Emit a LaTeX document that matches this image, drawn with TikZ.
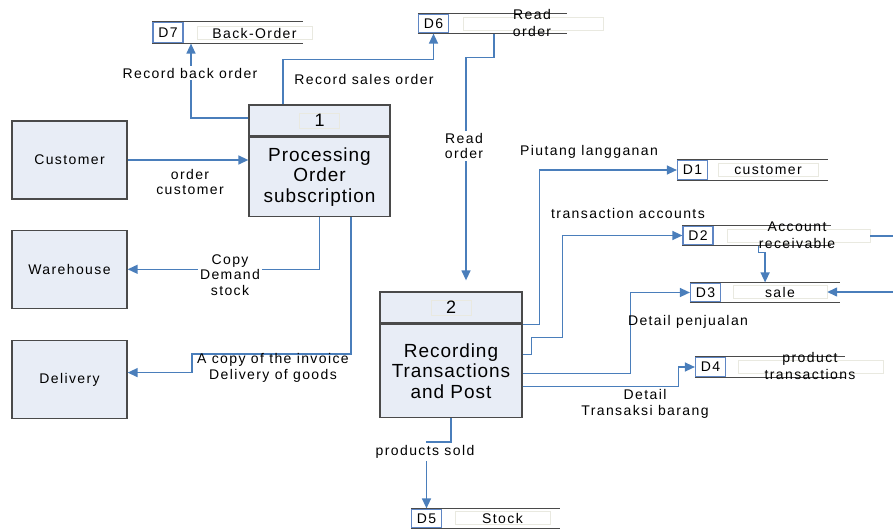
\documentclass[tikz,border=0pt]{standalone}
\usepackage{fontspec}
\usetikzlibrary{arrows.meta}
\usetikzlibrary{positioning}
\newfontfamily\dfdfont[LetterSpace=10]{Liberation Sans}
\newfontfamily\procfont[LetterSpace=5]{Liberation Sans}
\definecolor{flowblue}{HTML}{4A7EBB}
\definecolor{boxfill}{HTML}{E8EDF6}
\definecolor{edgegray}{HTML}{4A4A4A}
\definecolor{idblue}{HTML}{5F86C4}
\definecolor{faint}{HTML}{E9E9E0}

\tikzset{
  entity/.style={rectangle, draw=edgegray, fill=boxfill, line width=1.3pt, minimum width=115pt, minimum height=78pt, inner sep=0pt, font={\dfdfont\fontsize{14}{16}\selectfont}},
  prochead/.style={rectangle, draw=edgegray, fill=boxfill, line width=1.3pt, inner sep=0pt},
  procbody/.style={rectangle, draw=edgegray, fill=boxfill, line width=1.3pt, inner sep=0pt, align=center, font={\procfont\fontsize{19}{20.5}\selectfont}},
  numbox/.style={rectangle, draw=faint, minimum width=40pt, minimum height=15pt, inner sep=0pt, font={\procfont\fontsize{18}{20}\selectfont}},
  storeid/.style={rectangle, draw=idblue, line width=1.2pt, minimum width=30pt, inner sep=0pt, font={\dfdfont\fontsize{14}{16}\selectfont}},
  storename/.style={rectangle, draw=faint, minimum height=13pt, inner sep=0pt, font={\dfdfont\fontsize{14}{17}\selectfont}},
  storetext/.style={align=center, inner sep=0pt, font={\dfdfont\fontsize{14}{17}\selectfont}},
  storeline/.style={draw=edgegray, line width=1.3pt},
  flowline/.style={draw=flowblue, line width=1.4pt},
  flow/.style={flowline, ->},
  flowlabel/.style={align=center, inner sep=1pt, font={\dfdfont\fontsize{14}{15.5}\selectfont}},
  gap/.style={fill=white, inner sep=2pt}
}

\begin{document}
\begin{tikzpicture}[x=1pt, y=-1pt, >={Triangle[length=10pt,width=9pt]}]
  \useasboundingbox (0,0) rectangle (893,529);

  % external entities
  \node (cust) [entity] at (69.5,160) {Customer};
  \node (wh) [entity, below=30pt of cust] {Warehouse};
  \node (del) [entity, below=31pt of wh] {Delivery};

  % processes
  \node (p1h) [prochead, minimum width=141pt, minimum height=31pt] at (319.5,120.5) {};
  \node (p1) [procbody, minimum width=141pt, minimum height=79pt, below=0pt of p1h] {Processing\\Order\\subscription};
  \node (p1n) [numbox] at (p1h) {1};

  \node (p2h) [prochead, minimum width=142pt, minimum height=31pt] at (451,307.5) {};
  \node (p2) [procbody, minimum width=142pt, minimum height=93pt, below=0pt of p2h] {Recording\\Transactions\\and Post};
  \node (p2n) [numbox] at (p2h) {2};

  % data stores
  \node (d7) [storeid, minimum height=21pt] at (168,32.5) {D7};
  \node (d7n) [storename, minimum width=115pt] at (254.5,33) {Back-Order};
  \draw [storeline] (d7.north west) -- ++(151,0);
  \draw [storeline] (d7.south west) -- ++(151,0);

  \node (d6) [storeid, minimum height=19pt] at (433.5,23.5) {D6};
  \node (d6n) [storename, minimum width=140pt] at (533,23.5) {};
  \draw [storeline] (d6.north west) -- ++(149,0);
  \draw [storeline] (d6.south west) -- ++(149,0);
  \node (d6t) [storetext] at (532,23) {Read\\order};

  \node (d1) [storeid, minimum height=20pt] at (692.5,170) {D1};
  \node (d1n) [storename, minimum width=100pt] at (768,170) {customer};
  \draw [storeline] (d1.north west) -- ++(151,0);
  \draw [storeline] (d1.south west) -- ++(151,0);

  \node (d2) [storeid, minimum height=19pt] at (698,235.5) {D2};
  \node (d2n) [storename, minimum width=143pt] at (798.5,236) {};
  \draw [storeline] (d2.north west) -- ++(149,0);
  \draw [storeline] (d2.south west) -- ++(149,0);
  \node (d2t) [storetext] at (797,235) {Account\\receivable};

  \node (d3) [storeid, minimum height=19pt] at (705.5,292.5) {D3};
  \node (d3n) [storename, minimum width=94pt] at (780,292) {sale};
  \draw [storeline] (d3.north west) -- ++(150,0);
  \draw [storeline] (d3.south west) -- ++(150,0);

  \node (d4) [storeid, minimum height=20pt] at (710.5,367) {D4};
  \node (d4n) [storename, minimum width=145pt] at (810.5,367) {};
  \draw [storeline] (d4.north west) -- ++(150,0);
  \draw [storeline] (d4.south west) -- ++(150,0);
  \node (d4t) [storetext] at (810,366) {product\\transactions};

  \node (d5) [storeid, minimum height=19pt] at (426.5,518.5) {D5};
  \node (d5n) [storename, minimum width=95pt] at (502.5,518) {Stock};
  \draw [storeline] (d5.north west) -- ++(149,0);
  \draw [storeline] (d5.south west) -- ++(149,0);

  \coordinate (rim) at (893,0);

  % data flows
  \draw[flow] (cust) -- (cust -| p1.west);
  \draw[flow] (p1.south) |- (wh);
  \draw[flow] ([xshift=31.5pt]p1.south) |- (192,354) |- ([yshift=7pt]del.east);
  \draw[flow] ([yshift=2.5pt]p1h.west) -| ([xshift=23pt]d7.south);
  \draw[flow] ([xshift=-36.5pt]p1h.north) |- ([yshift=-26pt]d6.south) -- (d6.south);
  \draw[flow, shorten >=11pt] ([xshift=45pt]d6.south east) -- ++(0,24) -| ([xshift=15pt]p2h.north);
  \draw[flow] ([yshift=-1pt]p2.north east) -- ++(17,0) |- (d1);
  \draw[flow] ([yshift=-31pt]p2.north east) -- ++(9,0) -- ++(0,-17) -- ++(31,0) |- (d2);
  \draw[flow] ([yshift=-50pt]p2.north east) -- ++(108,0) |- (d3);
  \draw[flow] ([yshift=-63pt]p2.north east) -- ++(156,0) |- (d4);
  \draw[flow] (p2.south) -- ++(0,24) -| (d5);
  \draw[flow] ([xshift=45pt]d2.south east) -- ++(0,7) -| ([xshift=44pt]d3.north east);
  \draw[flowline] (d2n.east) -- (d2n.east -| rim);
  \draw[flow] (d3n.east -| rim) -- (d3n.east);

  % flow labels
  \node (lbackorder) [flowlabel, gap] at (190,73) {Record back order};
  \node (lsalesorder) [flowlabel] at (364,79) {Record sales order};
  \node (lordercust) [flowlabel] at (190,182) {order\\customer};
  \node (lcopydemand) [flowlabel, gap] at (230,275) {Copy\\Demand\\stock};
  \node (linvoice) [flowlabel] at (273,368) {A copy of the invoice\\Delivery of goods};
  \node (lreadorder) [flowlabel, gap] at (464,146) {Read\\order};
  \node (lpiutang) [flowlabel] at (589,152) {Piutang langganan};
  \node (ltransacc) [flowlabel] at (628,213) {transaction accounts};
  \node (lpenjualan) [flowlabel] at (688,322) {Detail penjualan};
  \node (ltransaksi) [flowlabel] at (645,404) {Detail\\Transaksi barang};
  \node (lsold) [flowlabel, gap] at (425,452) {products sold};
\end{tikzpicture}
\end{document}
